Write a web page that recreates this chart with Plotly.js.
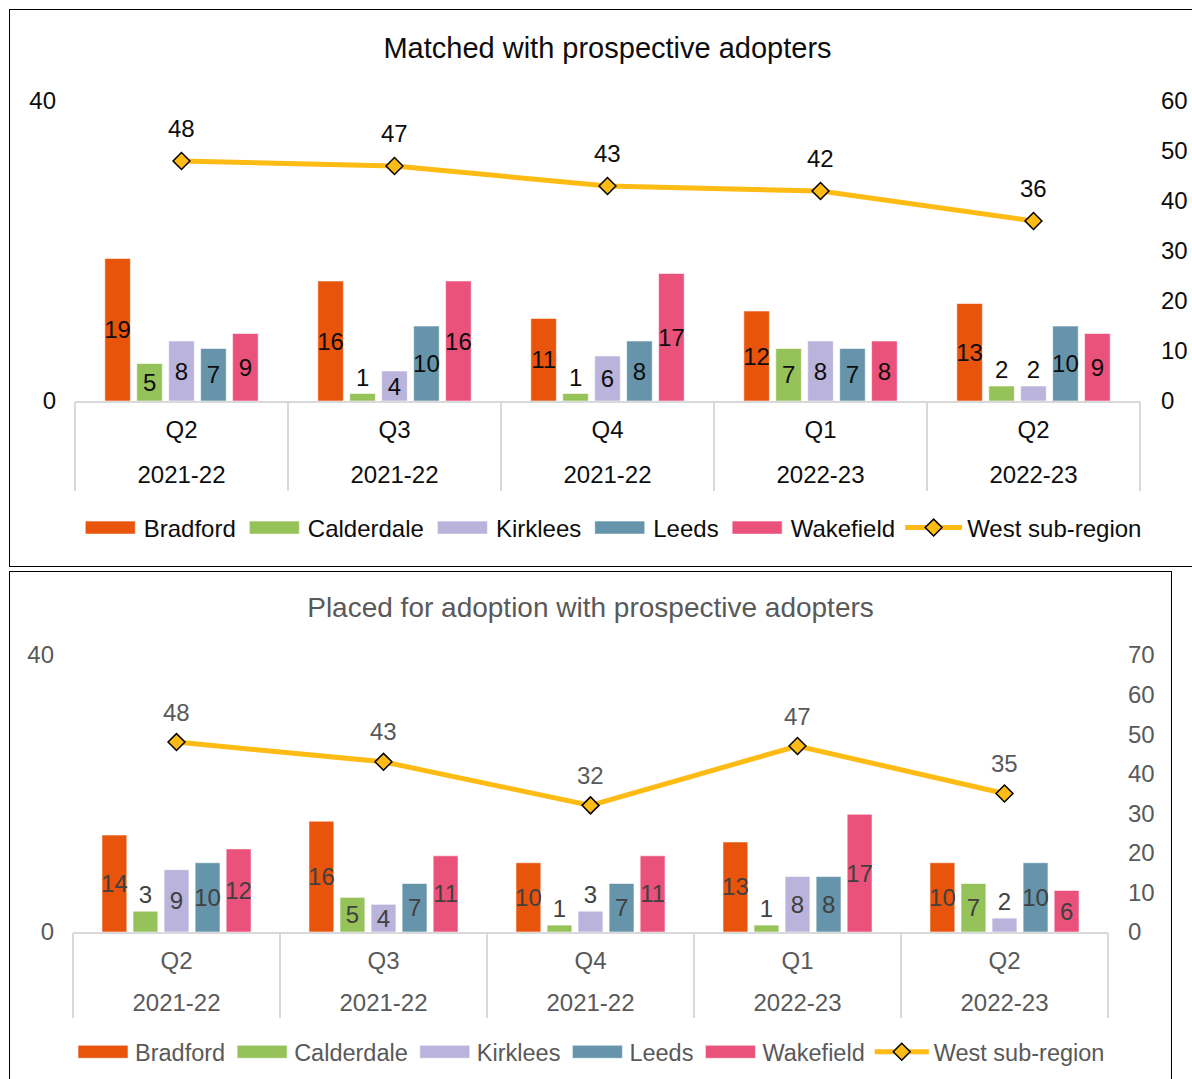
<!DOCTYPE html>
<html>
<head>
<meta charset="utf-8">
<script src="https://cdn.plot.ly/plotly-3.0.1.min.js"></script>
<style>
  html, body { margin: 0; padding: 0; background: #fff; overflow: hidden; width: 1192px; height: 1079px; }
  .frame { position: absolute; border: 1px solid #000; background: #fff; box-sizing: content-box; }
  #f1 { left: 9px; top: 9px; width: 1200px; height: 556px; }
  #f2 { left: 9px; top: 571px; width: 1161px; height: 520px; }
</style>
</head>
<body>
<div class="frame" id="f1"><div id="c1"></div></div>
<div class="frame" id="f2"><div id="c2"></div></div>
<script>
// ---- data ----
const quarters = ["Q2", "Q3", "Q4", "Q1", "Q2"];
const years = ["2021-22", "2021-22", "2021-22", "2022-23", "2022-23"];
const seriesNames = ["Bradford", "Calderdale", "Kirklees", "Leeds", "Wakefield"];
const lineName = "West sub-region";

// Matched with prospective adopters
const bradfordMatched = [19, 16, 11, 12, 13];
const calderdaleMatched = [5, 1, 1, 7, 2];
const kirkleesMatched = [8, 4, 6, 8, 2];
const leedsMatched = [7, 10, 8, 7, 10];
const wakefieldMatched = [9, 16, 17, 8, 9];
const westMatched = [48, 47, 43, 42, 36];

// Placed for adoption with prospective adopters
const bradfordPlaced = [14, 16, 10, 13, 10];
const calderdalePlaced = [3, 5, 1, 1, 7];
const kirkleesPlaced = [9, 4, 3, 8, 2];
const leedsPlaced = [10, 7, 7, 8, 10];
const wakefieldPlaced = [12, 11, 11, 17, 6];
const westPlaced = [48, 43, 32, 47, 35];

const leftTicks = [0, 40];
const rightTicksMatched = [0, 10, 20, 30, 40, 50, 60];
const rightTicksPlaced = [0, 10, 20, 30, 40, 50, 60, 70];

// ---- styling ----
const barColors = ["#E8540C", "#96C25A", "#BAB3DB", "#6594AB", "#EA517B"];
const lineColor = "#FDBB14";
const FONT = "Liberation Sans, Arial, sans-serif";
const categories = quarters.map((q, i) => q + " " + years[i]);
const WIDE_SWATCH = "M25,6.5H-25V-6.5H25Z";

function widenSwatches(gd) {
  gd.querySelectorAll("g.legendpoints path").forEach(p => {
    const d = (p.getAttribute("d") || "").replace(/\s+/g, "");
    if (/^M6,6H-6V-6H6Z$/.test(d) || p.classList.contains("legendbar")) {
      p.setAttribute("d", WIDE_SWATCH);
    }
  });
}

function buildChart(divId, cfg) {
  const traces = [];
  cfg.bars.forEach((vals, i) => {
    traces.push({
      type: "bar", name: seriesNames[i], x: categories, y: vals,
      text: vals.map(String),
      textposition: vals.map(v => (v <= cfg.smallValue ? "outside" : "inside")),
      constraintext: "none", textangle: 0,
      insidetextanchor: "middle",
      textfont: { family: FONT, size: 24, color: cfg.labelColor },
      insidetextfont: { family: FONT, size: 24, color: cfg.labelColor },
      outsidetextfont: { family: FONT, size: 24, color: cfg.labelColor },
      marker: { color: barColors[i], line: { color: "rgba(255,255,255,0.55)", width: 1 } },
      cliponaxis: false, hoverinfo: "skip", xaxis: "x", yaxis: "y"
    });
  });
  traces.push({
    type: "scatter", mode: "lines+markers", name: lineName, x: categories, y: cfg.line,
    line: { color: lineColor, width: 5 },
    marker: { symbol: "diamond", size: 13, color: lineColor, line: { color: "#000", width: 1.5 } },
    xaxis: "x", yaxis: "y2", hoverinfo: "skip", cliponaxis: false
  });
  // helper traces so the overlay axes know the categories
  ["x2", "x3"].forEach(ax => traces.push({
    type: "scatter", mode: "markers", x: categories, y: cfg.line, xaxis: ax, yaxis: "y2",
    marker: { opacity: 0, size: 1 }, showlegend: false, hoverinfo: "skip"
  }));

  const annotations = cfg.line.map((v, i) => ({
    x: categories[i], y: v, xref: "x", yref: "y2", text: String(v), showarrow: false,
    yshift: cfg.lineLabelShift, font: { family: FONT, size: 24, color: cfg.textColor }
  }));

  const catAxisBase = {
    type: "category", categoryorder: "array", categoryarray: categories,
    range: [-0.5, categories.length - 0.5], fixedrange: true, showgrid: false, zeroline: false
  };

  const layout = {
    width: cfg.width, height: cfg.height,
    margin: cfg.margin,
    paper_bgcolor: "#fff", plot_bgcolor: "rgba(0,0,0,0)",
    font: { family: FONT, size: 24, color: cfg.textColor },
    title: {
      text: cfg.title, x: 0.5, xref: "paper", xanchor: "center",
      y: cfg.titleY, yref: "container", yanchor: "middle",
      font: { family: FONT, size: cfg.titleSize, color: cfg.textColor }
    },
    barmode: "group", bargap: 0.25, bargroupgap: 0.2,
    showlegend: true,
    legend: {
      orientation: "h", x: cfg.legendX, xanchor: "center",
      y: cfg.legendY, yanchor: "middle",
      font: { family: FONT, size: cfg.legendSize, color: cfg.textColor }, itemwidth: cfg.itemWidth,
      traceorder: "normal", tracegroupgap: 0, bgcolor: "rgba(0,0,0,0)"
    },
    xaxis: Object.assign({}, catAxisBase, {
      anchor: "y", tickmode: "array", tickvals: categories, ticktext: quarters,
      ticks: "", showline: true, linecolor: "#D9D9D9", linewidth: 2,
      ticklabelstandoff: cfg.qStandoff, tickangle: 0,
      tickfont: { family: FONT, size: 24, color: cfg.textColor }
    }),
    xaxis2: Object.assign({}, catAxisBase, {
      anchor: "y", overlaying: "x", side: "bottom", tickmode: "array", tickvals: categories,
      ticks: "outside", tickson: "boundaries", ticklen: cfg.dividerLen, tickwidth: 2,
      tickcolor: "#D9D9D9", showticklabels: false, showline: false
    }),
    xaxis3: Object.assign({}, catAxisBase, {
      anchor: "y", overlaying: "x", side: "bottom", tickmode: "array", tickvals: categories,
      ticktext: years, ticks: "", showline: false, ticklabelstandoff: cfg.yStandoff, tickangle: 0,
      tickfont: { family: FONT, size: 24, color: cfg.textColor }
    }),
    yaxis: {
      range: [0, 40], tickmode: "array", tickvals: leftTicks, showgrid: true,
      gridcolor: "#D9D9D9", gridwidth: 2, zeroline: false, showline: false, ticks: "",
      ticklabelstandoff: 18, fixedrange: true,
      tickfont: { family: FONT, size: 24, color: cfg.textColor }
    },
    yaxis2: {
      range: [0, cfg.rightMax], tickmode: "array", tickvals: cfg.rightTicks, overlaying: "y",
      side: "right", showgrid: false, zeroline: false, showline: false, ticks: "",
      ticklabelstandoff: cfg.rightStandoff, fixedrange: true,
      tickfont: { family: FONT, size: 24, color: cfg.textColor }
    },
    annotations: annotations
  };
  return Plotly.newPlot(divId, traces, layout, { staticPlot: true, displayModeBar: false }).then(gd => {
    widenSwatches(gd);
    gd.on("plotly_afterplot", () => widenSwatches(gd));
    setTimeout(() => widenSwatches(gd), 30);
    setTimeout(() => widenSwatches(gd), 200);
    return gd;
  });
}

buildChart("c1", {
  title: "Matched with prospective adopters", titleSize: 29,
  bars: [bradfordMatched, calderdaleMatched, kirkleesMatched, leedsMatched, wakefieldMatched],
  line: westMatched, rightMax: 60, rightTicks: rightTicksMatched,
  width: 1200, height: 556, margin: { l: 65, r: 70, t: 91, b: 165, pad: 0 },
  titleY: 1 - 38 / 556, legendX: 0.504, legendY: -0.4233, legendSize: 24, itemWidth: 57,
  textColor: "#0D0D0D", labelColor: "#0D0D0D", lineLabelShift: 33,
  qStandoff: 6, yStandoff: 57, dividerLen: 89, rightStandoff: 20, smallValue: 2
});

buildChart("c2", {
  title: "Placed for adoption with prospective adopters", titleSize: 28,
  bars: [bradfordPlaced, calderdalePlaced, kirkleesPlaced, leedsPlaced, wakefieldPlaced],
  line: westPlaced, rightMax: 70, rightTicks: rightTicksPlaced,
  width: 1161, height: 520, margin: { l: 63, r: 63, t: 83, b: 160, pad: 0 },
  titleY: 1 - 35 / 520, legendX: 0.5, legendY: -0.4332, legendSize: 23.5, itemWidth: 54,
  textColor: "#595959", labelColor: "#404040", lineLabelShift: 30,
  qStandoff: 6, yStandoff: 54, dividerLen: 85, rightStandoff: 19, smallValue: 3
});
</script>
</body>
</html>
